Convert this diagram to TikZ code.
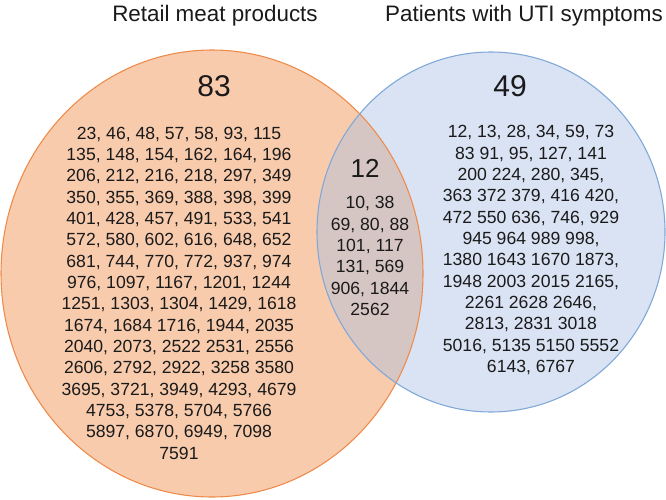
\documentclass[tikz,border=0pt]{standalone}
\usepackage{fontspec}
\setmainfont{Liberation Sans}
\definecolor{orfill}{HTML}{F8CBAD}
\definecolor{orline}{HTML}{EE8A4A}
\definecolor{blfill}{HTML}{DAE3F3}
\definecolor{blline}{HTML}{7FA7D8}
\definecolor{lensfill}{HTML}{D6C6C3}
\definecolor{txt}{HTML}{1A1A1A}
\begin{document}
\begin{tikzpicture}[x=0.75pt,y=-0.75pt,
  numtxt/.style={font=\fontsize{13.2}{16}\selectfont, align=center, inner sep=0pt, text=txt},
  bignum/.style={font=\fontsize{22.5}{26}\selectfont, inner sep=0pt, text=txt},
  midnum/.style={font=\fontsize{19.5}{22}\selectfont, inner sep=0pt, text=txt},
  titletxt/.style={font=\fontsize{16.8}{20}\selectfont, inner sep=0pt, text=txt}]
\useasboundingbox (0,0) rectangle (666,499);
% sets
\fill[orfill] (212,273.5) ellipse [x radius=211, y radius=223.5];
\fill[blfill] (491,232) ellipse [x radius=174, y radius=180];
\begin{scope}
  \clip (212,273.5) ellipse [x radius=211, y radius=223.5];
  \fill[lensfill] (491,232) ellipse [x radius=174, y radius=180];
\end{scope}
\draw[orline, line width=0.8pt] (212,273.5) ellipse [x radius=211, y radius=223.5];
\draw[blline, line width=0.8pt] (491,232) ellipse [x radius=174, y radius=180];
% titles
\node[titletxt] (tleft) at (215,16) {Retail meat products};
\node[titletxt] (tright) at (524,16) {Patients with UTI symptoms};
% counts
\node[bignum] (n83) at (214,86) {83};
\node[bignum] (n49) at (510,86) {49};
\node[midnum] (n12) at (365,168) {12};
% lists
\node[numtxt] (lset) at (179,293) {23, 46, 48, 57, 58, 93, 115\\
135, 148, 154, 162, 164, 196\\
206, 212, 216, 218, 297, 349\\
350, 355, 369, 388, 398, 399\\
401, 428, 457, 491, 533, 541\\
572, 580, 602, 616, 648, 652\\
681, 744, 770, 772, 937, 974\\
976, 1097, 1167, 1201, 1244\\
1251, 1303, 1304, 1429, 1618\\
1674, 1684 1716, 1944, 2035\\
2040, 2073, 2522 2531, 2556\\
2606, 2792, 2922, 3258 3580\\
3695, 3721, 3949, 4293, 4679\\
4753, 5378, 5704, 5766\\
5897, 6870, 6949, 7098\\
7591};
\node[numtxt] (iset) at (370,256) {10, 38\\
69, 80, 88\\
101, 117\\
131, 569\\
906, 1844\\
2562};
\node[numtxt] (rset) at (531,250) {12, 13, 28, 34, 59, 73\\
83 91, 95, 127, 141\\
200 224, 280, 345,\\
363 372 379, 416 420,\\
472 550 636, 746, 929\\
945 964 989 998,\\
1380 1643 1670 1873,\\
1948 2003 2015 2165,\\
2261 2628 2646,\\
2813, 2831 3018\\
5016, 5135 5150 5552\\
6143, 6767};
\end{tikzpicture}
\end{document}
